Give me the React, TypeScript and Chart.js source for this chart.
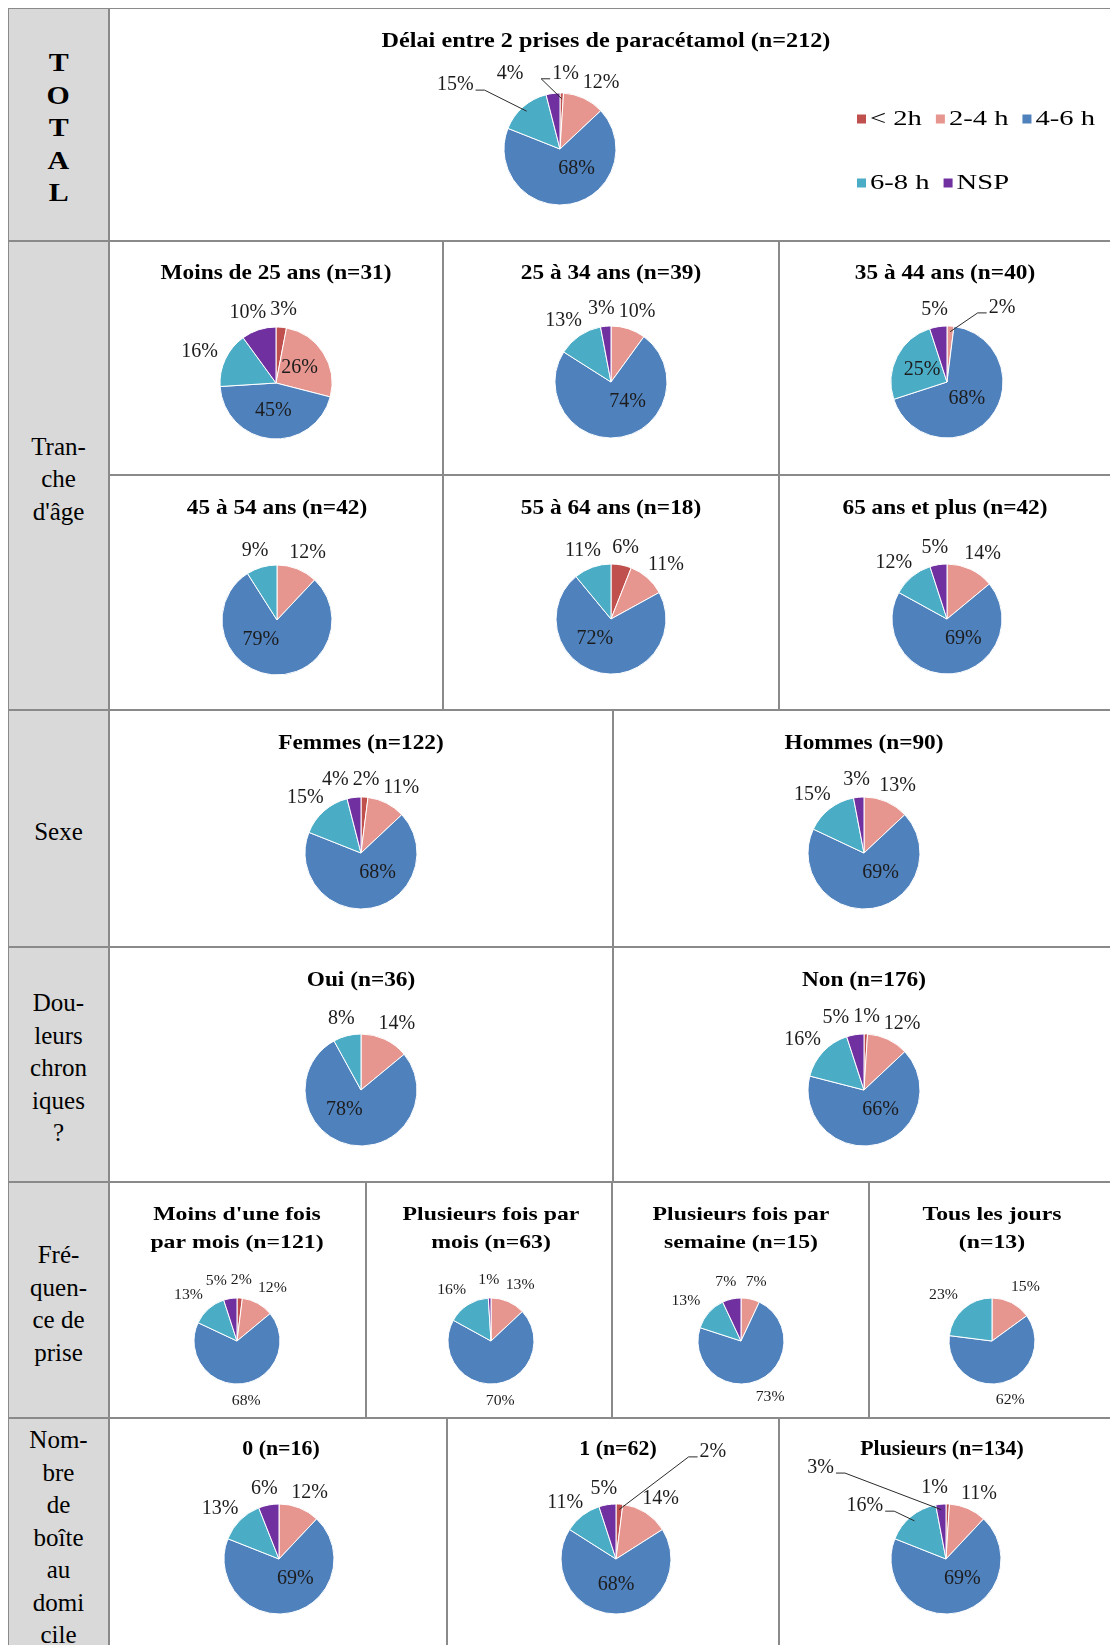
import React, { useEffect, useRef } from 'react';
import { Chart, registerables } from 'chart.js';

Chart.register(...registerables);

const SERIF = '"Liberation Serif", "Times New Roman", Times, serif';

// ---------------- data ----------------
const categories = ['< 2h', '2-4 h', '4-6 h', '6-8 h', 'NSP'];
const sliceColors = ['#c0504d', '#e6958f', '#4f81bd', '#4bacc6', '#7030a0'];

// percentages per group, in the order of `categories`
const totalAll = [1, 12, 68, 15, 4];
const ageUnder25 = [3, 26, 45, 16, 10];
const age25to34 = [0, 10, 74, 13, 3];
const age35to44 = [0, 2, 68, 25, 5];
const age45to54 = [0, 12, 79, 9, 0];
const age55to64 = [6, 11, 72, 11, 0];
const age65plus = [0, 14, 69, 12, 5];
const sexWomen = [2, 11, 68, 15, 4];
const sexMen = [0, 13, 69, 15, 3];
const chronicYes = [0, 14, 78, 8, 0];
const chronicNo = [1, 12, 66, 16, 5];
const freqUnderMonthly = [2, 12, 68, 13, 5];
const freqMonthly = [0, 13, 70, 16, 1];
const freqWeekly = [0, 7, 73, 13, 7];
const freqDaily = [0, 15, 62, 23, 0];
const boxesZero = [0, 12, 69, 13, 6];
const boxesOne = [2, 14, 68, 11, 5];
const boxesMany = [1, 11, 69, 16, 3];

// ---------------- styles / layout ----------------
type Kind = 'total' | 'std' | 'freq' | 'box';
const STYLES: Record<Kind, { titleSize: number; titleStretch: number; labelSize: number; labelStretch: number; gap: number; vGap: number; insideMin: number }> = {
  total: { titleSize: 22, titleStretch: 1.1, labelSize: 20, labelStretch: 1, gap: 6, vGap: 4, insideMin: 20 },
  std: { titleSize: 22, titleStretch: 1.06, labelSize: 20, labelStretch: 1, gap: 6, vGap: 4, insideMin: 20 },
  freq: { titleSize: 19, titleStretch: 1.25, labelSize: 15, labelStretch: 1.05, gap: 12, vGap: 0, insideMin: 101 },
  box: { titleSize: 21, titleStretch: 1.04, labelSize: 20, labelStretch: 1, gap: 6, vGap: 3, insideMin: 20 },
};

type Spec = {
  id: string;
  kind: Kind;
  title: string[];
  values: number[];
  cell: [number, number, number, number];
  cx: number;
  cy: number;
  r: number;
  titleX?: number;
  titleY: number[];
  legend?: boolean;
  nudges?: Record<number, [number, number]>;
  leaders?: number[];
};

const CHARTS: Spec[] = [
  { id: 'total', kind: 'total', title: ['Délai entre 2 prises de paracétamol (n=212)'], values: totalAll, cell: [109, 8, 1002, 233], cx: 560, cy: 149, r: 56, titleX: 606, titleY: [41], legend: true, nudges: { 0: [3, -2], 3: [-49, -9], 4: [-40, -2] }, leaders: [0, 3] },
  { id: 'a1', kind: 'std', title: ['Moins de 25 ans (n=31)'], values: ageUnder25, cell: [109, 241, 334, 234], cx: 276, cy: 383, r: 56, titleY: [273] },
  { id: 'a2', kind: 'std', title: ['25 à 34 ans (n=39)'], values: age25to34, cell: [443, 241, 336, 234], cx: 611, cy: 382, r: 56, titleY: [273] },
  { id: 'a3', kind: 'std', title: ['35 à 44 ans (n=40)'], values: age35to44, cell: [779, 241, 332, 234], cx: 947, cy: 382, r: 56, titleX: 945, titleY: [273], nudges: { 1: [50, -1] }, leaders: [1] },
  { id: 'a4', kind: 'std', title: ['45 à 54 ans (n=42)'], values: age45to54, cell: [109, 475, 334, 235], cx: 277, cy: 620, r: 55, titleY: [508] },
  { id: 'a5', kind: 'std', title: ['55 à 64 ans (n=18)'], values: age55to64, cell: [443, 475, 336, 235], cx: 611, cy: 619, r: 55, titleY: [508] },
  { id: 'a6', kind: 'std', title: ['65 ans et plus (n=42)'], values: age65plus, cell: [779, 475, 332, 235], cx: 947, cy: 619, r: 55, titleX: 945, titleY: [508] },
  { id: 's1', kind: 'std', title: ['Femmes (n=122)'], values: sexWomen, cell: [109, 710, 504, 237], cx: 361, cy: 853, r: 56, titleY: [743] },
  { id: 's2', kind: 'std', title: ['Hommes (n=90)'], values: sexMen, cell: [613, 710, 498, 237], cx: 864, cy: 853, r: 56, titleY: [743] },
  { id: 'c1', kind: 'std', title: ['Oui (n=36)'], values: chronicYes, cell: [109, 947, 504, 235], cx: 361, cy: 1090, r: 56, titleY: [980] },
  { id: 'c2', kind: 'std', title: ['Non (n=176)'], values: chronicNo, cell: [613, 947, 498, 235], cx: 864, cy: 1090, r: 56, titleY: [980] },
  { id: 'f1', kind: 'freq', title: ["Moins d'une fois", 'par mois (n=121)'], values: freqUnderMonthly, cell: [109, 1182, 257, 236], cx: 237, cy: 1341, r: 43, titleY: [1215, 1243] },
  { id: 'f2', kind: 'freq', title: ['Plusieurs fois par', 'mois (n=63)'], values: freqMonthly, cell: [366, 1182, 246, 236], cx: 491, cy: 1341, r: 43, titleY: [1215, 1243] },
  { id: 'f3', kind: 'freq', title: ['Plusieurs fois par', 'semaine (n=15)'], values: freqWeekly, cell: [612, 1182, 257, 236], cx: 741, cy: 1341, r: 43, titleY: [1215, 1243] },
  { id: 'f4', kind: 'freq', title: ['Tous les jours', '(n=13)'], values: freqDaily, cell: [869, 1182, 242, 236], cx: 992, cy: 1341, r: 43, titleY: [1215, 1243] },
  { id: 'b1', kind: 'box', title: ['0 (n=16)'], values: boxesZero, cell: [109, 1418, 338, 232], cx: 279, cy: 1559, r: 55, titleX: 281, titleY: [1450] },
  { id: 'b2', kind: 'box', title: ['1 (n=62)'], values: boxesOne, cell: [447, 1418, 332, 232], cx: 616, cy: 1559, r: 55, titleX: 618, titleY: [1450], nudges: { 0: [92, -36] }, leaders: [0] },
  { id: 'b3', kind: 'box', title: ['Plusieurs (n=134)'], values: boxesMany, cell: [779, 1418, 332, 232], cx: 946, cy: 1559, r: 55, titleX: 942, titleY: [1450], nudges: { 0: [-14, 0], 3: [-28, 2], 4: [-118, -20] }, leaders: [3, 4] },
];

type LabelCell = { lines: string[]; box: [number, number, number, number]; bold?: boolean; stretch?: number };
const LABEL_CELLS: LabelCell[] = [
  { lines: ['T', 'O', 'T', 'A', 'L'], box: [8, 8, 101, 233], bold: true, stretch: 1.15 },
  { lines: ['Tran-', 'che', "d'âge"], box: [8, 241, 101, 469] },
  { lines: ['Sexe'], box: [8, 710, 101, 237] },
  { lines: ['Dou-', 'leurs', 'chron', 'iques', '?'], box: [8, 947, 101, 235] },
  { lines: ['Fré-', 'quen-', 'ce de', 'prise'], box: [8, 1182, 101, 236] },
  { lines: ['Nom-', 'bre', 'de', 'boîte', 'au', 'domi', 'cile'], box: [8, 1418, 101, 232] },
];

const BORDER = '1px solid #8a8a8a';

function drawText(ctx: CanvasRenderingContext2D, text: string, x: number, y: number, font: string, stretch: number, color: string, align: CanvasTextAlign = 'center') {
  ctx.save();
  ctx.font = font;
  ctx.fillStyle = color;
  ctx.textAlign = align;
  ctx.textBaseline = 'middle';
  ctx.translate(x, y);
  ctx.scale(stretch, 1);
  ctx.fillText(text, 0, 0);
  ctx.restore();
}

type Item = { text: string; x: number; y: number; w: number; h: number; ux: number; uy: number; inside: boolean; fixed: boolean; leader: boolean; cx: number; cy: number; r: number };

function makeDecorPlugin(spec: Spec) {
  const st = STYLES[spec.kind];
  return {
    id: 'decor_' + spec.id,
    afterDatasetsDraw(chart: any) {
      const ctx: CanvasRenderingContext2D = chart.ctx;
      const meta = chart.getDatasetMeta(0);
      const values = chart.data.datasets[0].data as number[];
      const labelFont = `${st.labelSize}px ${SERIF}`;
      ctx.save();
      ctx.font = labelFont;
      const items: Item[] = [];
      meta.data.forEach((el: any, i: number) => {
        const v = values[i];
        if (!v) return;
        const mid = (el.startAngle + el.endAngle) / 2;
        const ux = Math.cos(mid);
        const uy = Math.sin(mid);
        const text = `${v}%`;
        const w = ctx.measureText(text).width * st.labelStretch;
        const h = st.labelSize * 0.75;
        const inside = v >= st.insideMin;
        let x: number;
        let y: number;
        if (inside) {
          // best-fit style: big slices keep their label off the vertical axis
          let deg = ((mid + Math.PI / 2) * 180) / Math.PI; // clockwise from top
          deg = ((deg % 360) + 360) % 360;
          let dist = el.outerRadius * 0.5;
          if (v > 50) {
            const dev = deg - 180;
            if (Math.abs(dev) > 1 && Math.abs(dev) < 40) deg = 180 + Math.sign(dev) * 40;
            dist = el.outerRadius * 0.46;
          }
          const rad = (deg * Math.PI) / 180;
          x = el.x + Math.sin(rad) * dist;
          y = el.y - Math.cos(rad) * dist;
        } else {
          const d = el.outerRadius + st.gap;
          x = el.x + ux * (d + w / 2 + 4);
          y = el.y + uy * (d + h / 2 + st.vGap);
        }
        const n = spec.nudges ? spec.nudges[i] : undefined;
        if (n) {
          x += n[0];
          y += n[1];
        }
        items.push({ text, x, y, w, h, ux, uy, inside, fixed: !!n, leader: !!(spec.leaders && spec.leaders.includes(i)), cx: el.x, cy: el.y, r: el.outerRadius });
      });
      // keep outside labels from overlapping
      const outs = items.filter((it) => !it.inside);
      for (let iter = 0; iter < 20; iter++) {
        let moved = false;
        for (let i = 0; i < outs.length; i++) {
          for (let j = 0; j < outs.length; j++) {
            if (i === j) continue;
            const a = outs[i];
            const b = outs[j];
            if (a.x > b.x || (a.x === b.x && i > j)) continue;
            if (Math.abs(a.y - b.y) >= (a.h + b.h) / 2 + 1) continue;
            const need = a.x + a.w / 2 + 4 - (b.x - b.w / 2);
            if (need <= 0.5) continue;
            if (a.fixed && b.fixed) continue;
            if ((a.ux < 0 && !a.fixed) || b.fixed) a.x -= need;
            else b.x += need;
            moved = true;
          }
        }
        if (!moved) break;
      }
      ctx.strokeStyle = '#2a2a2a';
      ctx.lineWidth = 1;
      items.forEach((it) => {
        if (it.leader) {
          const ax = it.cx + it.ux * it.r * 0.9;
          const ay = it.cy + it.uy * it.r * 0.9;
          const left = it.x < ax;
          const px = left ? it.x + it.w / 2 + 2 : it.x - it.w / 2 - 2;
          const py = it.y + it.h * 0.35;
          const ex = left ? px + 9 : px - 9;
          ctx.beginPath();
          ctx.moveTo(ax, ay);
          ctx.lineTo(ex, py);
          ctx.lineTo(px, py);
          ctx.stroke();
        }
        drawText(ctx, it.text, it.x, it.y, labelFont, st.labelStretch, '#1c1c1c');
      });
      ctx.restore();
    },
    afterDraw(chart: any) {
      const ctx: CanvasRenderingContext2D = chart.ctx;
      const [x0, y0] = spec.cell;
      const tx = (spec.titleX ?? spec.cx) - x0;
      spec.title.forEach((line, k) => {
        drawText(ctx, line, tx, spec.titleY[k] - y0, `bold ${st.titleSize}px ${SERIF}`, st.titleStretch, '#000');
      });
      if (spec.legend) {
        const labels = chart.data.labels as string[];
        const colors = chart.data.datasets[0].backgroundColor as string[];
        const font = `22px ${SERIF}`;
        const stretch = 1.3;
        ctx.save();
        ctx.font = font;
        let lx = 857 - x0;
        let ly = 119 - y0;
        labels.forEach((lab, i) => {
          if (i === 3) {
            lx = 857 - x0;
            ly = 183 - y0;
          }
          ctx.fillStyle = colors[i];
          ctx.fillRect(lx, ly - 4.5, 9, 9);
          const tw = ctx.measureText(lab).width * stretch;
          drawText(ctx, lab, lx + 13, ly, font, stretch, '#000', 'left');
          lx += 13 + tw + 14;
        });
        ctx.restore();
      }
    },
  };
}

function PieCell({ spec }: { spec: Spec }) {
  const ref = useRef<HTMLCanvasElement>(null);
  const [x, y, w, h] = spec.cell;
  useEffect(() => {
    const canvas = ref.current;
    if (!canvas) return;
    const cxr = spec.cx - x;
    const cyr = spec.cy - y;
    const r = spec.r;
    const padL = Math.max(0, 2 * cxr - w);
    const padR = Math.max(0, w - 2 * cxr);
    const padT = cyr - r - 1;
    const padB = h - cyr - r - 1;
    const chart = new Chart(canvas, {
      type: 'pie',
      data: {
        labels: categories,
        datasets: [
          {
            data: spec.values,
            backgroundColor: sliceColors,
            borderColor: '#ffffff',
            borderWidth: 1,
          },
        ],
      },
      options: {
        responsive: false,
        animation: false,
        devicePixelRatio: 1,
        events: [],
        radius: r,
        layout: { padding: { left: padL, right: padR, top: padT, bottom: padB } },
        plugins: {
          legend: { display: false },
          title: { display: false },
          tooltip: { enabled: false },
        },
      } as any,
      plugins: [makeDecorPlugin(spec) as any],
    });
    return () => chart.destroy();
  }, [spec]);
  return (
    <>
      <div style={{ position: 'absolute', left: x, top: y, width: w, height: h, border: BORDER, boxSizing: 'border-box', background: '#fff' }} />
      <canvas ref={ref} width={w} height={h} style={{ position: 'absolute', left: x, top: y, width: w, height: h }} />
    </>
  );
}

function RowLabel({ cell }: { cell: LabelCell }) {
  const [x, y, w, h] = cell.box;
  return (
    <div
      style={{
        position: 'absolute',
        left: x,
        top: y,
        width: w,
        height: h,
        border: BORDER,
        boxSizing: 'border-box',
        background: '#d9d9d9',
        display: 'flex',
        flexDirection: 'column',
        alignItems: 'center',
        justifyContent: 'center',
        fontFamily: SERIF,
        fontSize: cell.bold ? 26 : 25,
        fontWeight: cell.bold ? 700 : 400,
        lineHeight: '32.5px',
        color: '#000',
        overflow: 'hidden',
      }}
    >
      <div style={{ transform: 'translateY(4px)', display: 'flex', flexDirection: 'column', alignItems: 'center' }}>
        {cell.lines.map((l, i) => (
          <div key={i} style={{ transform: `scaleX(${cell.stretch ?? 1})`, whiteSpace: 'nowrap', textAlign: 'center' }}>
            {l}
          </div>
        ))}
      </div>
    </div>
  );
}

export default function App() {
  return (
    <div style={{ position: 'fixed', left: 0, top: 0, width: 1110, height: 1645, overflow: 'hidden', background: '#ffffff' }}>
      {CHARTS.map((s) => (
        <PieCell key={s.id} spec={s} />
      ))}
      {LABEL_CELLS.map((c, i) => (
        <RowLabel key={i} cell={c} />
      ))}
    </div>
  );
}
